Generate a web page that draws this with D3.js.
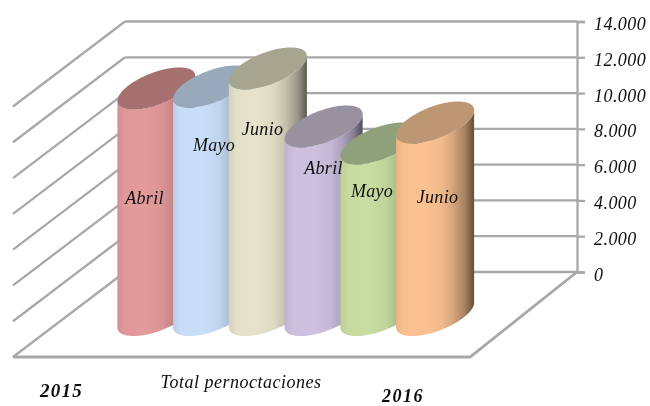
<!DOCTYPE html>
<html><head><meta charset="utf-8">
<script src="https://cdn.jsdelivr.net/npm/d3@7"></script>
<style>html,body{margin:0;padding:0;background:#fff}svg{display:block}
text{font-family:"Liberation Serif",serif;font-style:italic;fill:#111}</style>
</head><body><div id="chart"></div>
<script>
const categories = ["Abril","Mayo","Junio","Abril","Mayo","Junio"];
const values = [12660,12770,13780,10540,9590,10760];
const bodyColors = ["#e39a9b","#c9def9","#e7e2cb","#cdc1df","#c9dda2","#fbc291"];
const topColors = ["#a66f70","#98a9bc","#a6a590","#98919f","#8fa17a","#bd9673"];
const tickValues = [0,2000,4000,6000,8000,10000,12000,14000];
const yearLabels = ["2015","2016"];
const axisTitle = "Total pernoctaciones";

const W = 650, H = 406;
const wall = {left:125, right:577, top:21.5, bottom:272};
const depth = {dx:-112, dy:85};
const labelPos = [[144.5,204],[214,151],[262.5,135],[323.5,174],[372,197],[437.5,203]];

const svg = d3.select("#chart").append("svg").attr("width",W).attr("height",H);
const defs = svg.append("defs");
defs.append("filter").attr("id","soft").attr("x","-5%").attr("y","-5%").attr("width","110%").attr("height","110%")
  .append("feGaussianBlur").attr("stdDeviation",0.5);
const root = svg.append("g").attr("filter","url(#soft)");

const y = d3.scaleLinear().domain([0,14000]).range([wall.bottom,wall.top]);
const x = d3.scaleBand().domain(d3.range(categories.length)).range([128.5,463]).padding(0);

// left wall gridlines + floor
const grid = root.append("g").attr("fill","none").attr("stroke","#a8a8a8").attr("stroke-width",2.3);
grid.selectAll("line.side").data(tickValues).join("line").attr("class","side")
  .attr("x1",wall.left).attr("y1",d=>y(d))
  .attr("x2",wall.left+depth.dx).attr("y2",d=>y(d)+depth.dy);
grid.selectAll("line.back").data(tickValues).join("line").attr("class","back")
  .attr("x1",wall.left).attr("y1",d=>y(d))
  .attr("x2",wall.right).attr("y2",d=>y(d));
grid.append("path").attr("stroke-width",2.8).attr("d",d3.line()([
  [wall.left+depth.dx,wall.bottom+depth.dy],
  [wall.right+depth.dx+5,wall.bottom+depth.dy],
  [wall.right,wall.bottom]]));

// value axis
const axis = root.append("g").attr("transform",`translate(${wall.right},0)`)
  .call(d3.axisRight(y).tickValues(tickValues).tickSize(8).tickPadding(9)
    .tickFormat(d=>d3.format(",")(d).replace(/,/g,".")));
axis.selectAll("line,path").attr("stroke","#a8a8a8").attr("stroke-width",2.3);
axis.selectAll("text").attr("font-size",18).attr("letter-spacing",0.45).attr("fill","#111")
  .attr("dy","0.45em").attr("font-family","Liberation Serif").attr("font-style","italic");

// cylinders
const R = {A:31.5,B:23,C:21};
const Rx = Math.hypot(R.A,R.B);
const t0 = Math.atan2(-R.B,R.A);            // angle of the rightmost point
const pt = (cx,cy,t)=>[cx+R.A*Math.cos(t)-R.B*Math.sin(t), cy+R.C*Math.sin(t)];
const baseY = wall.bottom+43;
const line = d3.line();
const shade = [[0,.07],[.1,.01],[.36,0],[.58,.04],[.72,.14],[.88,.33],[1,.6]];

const bars = root.append("g").selectAll("g").data(values).join("g");
bars.each(function(v,i){
  const g = d3.select(this);
  const cx = x(i)+x.bandwidth()/2;
  const h = wall.bottom-y(v);
  const topY = baseY-h;
  const gid = "grad"+i;
  const lg = defs.append("linearGradient").attr("id",gid).attr("gradientUnits","userSpaceOnUse")
    .attr("x1",cx-Rx).attr("x2",cx+Rx).attr("y1",0).attr("y2",0);
  shade.forEach(([o,k])=>lg.append("stop").attr("offset",o)
    .attr("stop-color",d3.interpolateRgb(bodyColors[i],"#000")(k)));
  const lower = d3.range(t0,t0+Math.PI+0.001,Math.PI/40).map(t=>pt(cx,baseY,t));
  const upper = d3.range(t0+Math.PI,t0-0.001,-Math.PI/40).map(t=>pt(cx,topY,t));
  g.append("path").attr("d",line(lower.concat(upper))+"Z").attr("fill",`url(#${gid})`);
  const ring = d3.range(0,Math.PI*2,Math.PI/40).map(t=>pt(cx,topY,t));
  g.append("path").attr("d",line(ring)+"Z").attr("fill",topColors[i]);
});

// labels
root.append("g").selectAll("text").data(categories).join("text")
  .attr("x",(d,i)=>labelPos[i][0]).attr("y",(d,i)=>labelPos[i][1])
  .attr("text-anchor","middle").attr("font-size",18).attr("letter-spacing",0.3).text(d=>d);
root.append("text").attr("x",241).attr("y",388).attr("text-anchor","middle")
  .attr("font-size",18).attr("letter-spacing",0.5).text(axisTitle);
root.append("text").attr("x",61.5).attr("y",397).attr("text-anchor","middle")
  .attr("font-size",19).attr("font-weight","bold").attr("letter-spacing",1.2).text(yearLabels[0]);
root.append("text").attr("x",403).attr("y",401.5).attr("text-anchor","middle")
  .attr("font-size",18).attr("font-weight","bold").attr("letter-spacing",1.5).text(yearLabels[1]);
</script></body></html>
